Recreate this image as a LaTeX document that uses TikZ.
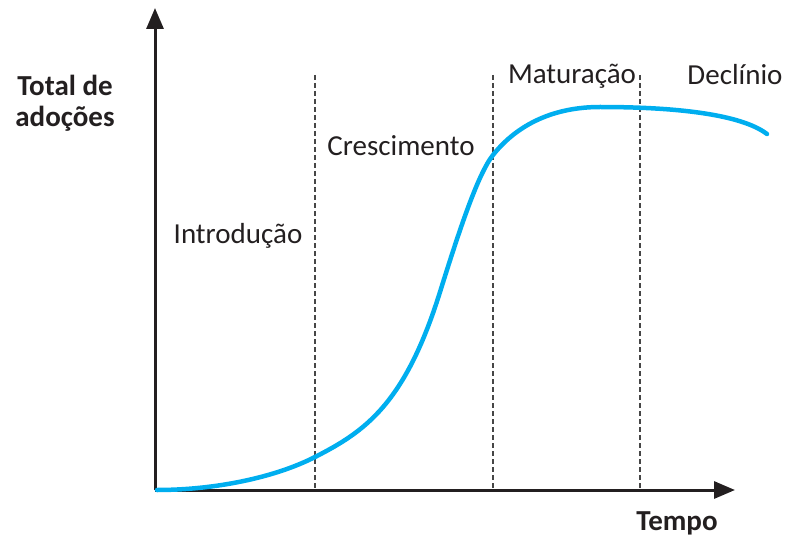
\documentclass[tikz,border=0pt]{standalone}
\usepackage{fontspec}
\setmainfont{Carlito}
\usetikzlibrary{arrows.meta,positioning}
\definecolor{curveblue}{RGB}{0,174,239}
\definecolor{axisgray}{RGB}{35,31,32}
\definecolor{dashgray}{RGB}{70,70,70}
\begin{document}
\begin{tikzpicture}[x=1pt,y=-1pt,
  axis/.style={line width=3pt, draw=axisgray, -{Triangle[length=21pt,width=17pt]}},
  phase/.style={line width=2.4pt, draw=dashgray, dash pattern=on 5pt off 3pt},
  lbl/.style={font=\fontsize{29}{31}\selectfont, text=axisgray, inner sep=0pt},
  bold lbl/.style={lbl, font=\fontsize{29}{31}\selectfont\bfseries}]
\useasboundingbox (0,0) rectangle (789,540);
\coordinate (origin) at (155,490);
\coordinate (ytop) at (155,8);
\coordinate (xend) at (735,490);
% phase borders
\coordinate (b1top) at (315,75); \coordinate (b1) at (315,490);
\coordinate (b2top) at (493,75); \coordinate (b2) at (493,490);
\coordinate (b3top) at (640,75); \coordinate (b3) at (640,490);
\draw[phase] (b1top) -- (b1);
\draw[phase] (b2top) -- (b2);
\draw[phase] (b3top) -- (b3);
% axes
\draw[axis] (origin) -- (ytop);
\draw[axis] (origin) -- (xend);
% adoption curve
\draw[curveblue, line width=4.5pt, line cap=round]
  (157,490) .. controls (215,490) and (275,477.5) .. (315,457)  % introduction
  .. controls (365,431.5) and (405,404) .. (440,292)             % growth
  .. controls (460,228) and (478,174) .. (493,155)
  .. controls (518,123.5) and (555,107) .. (600,107)             % maturity
  .. controls (680,107) and (742,115) .. (767,134);              % decline
% labels
\node[bold lbl, align=center] (ylabel) at (65,103) {Total de\\adoções};
\node[bold lbl] (xlabel) at (677,523) {Tempo};
\node[lbl] (intro) at (238,236) {Introdução};
\node[lbl] (growth) at (401,146) {Crescimento};
\node[lbl] (mature) at (572,76) {Maturação};
\node[lbl] (decline) at (735,75) {Declínio};
\end{tikzpicture}
\end{document}
